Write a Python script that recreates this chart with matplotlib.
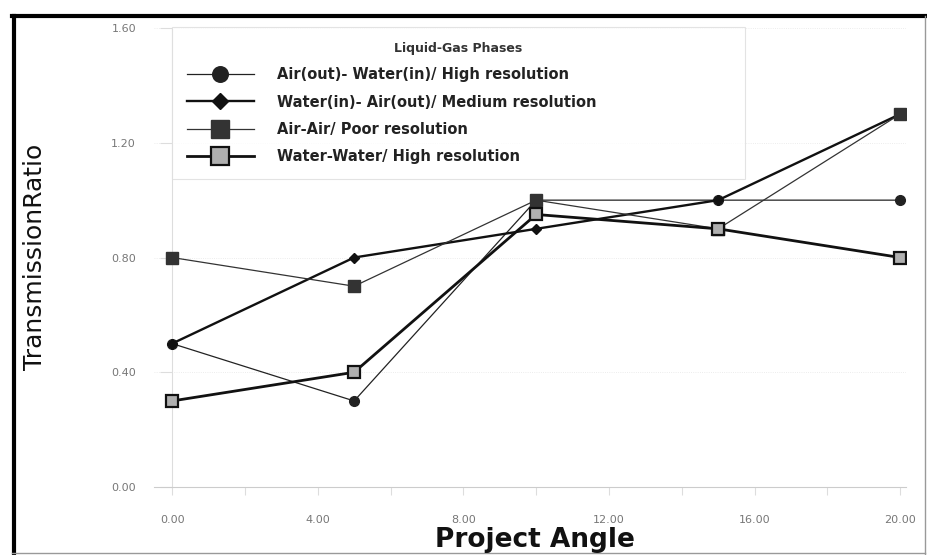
import matplotlib.pyplot as plt
from matplotlib.lines import Line2D

# project angle values
angles = [0, 5, 10, 15, 20]

# transmission ratios
air_water_high = [0.50, 0.30, 1.00, 1.00, 1.00]
water_air_medium = [0.50, 0.80, 0.90, 1.00, 1.30]
air_air_poor = [0.80, 0.70, 1.00, 0.90, 1.30]
water_water_high = [0.30, 0.40, 0.95, 0.90, 0.80]

labels = ["Air(out)- Water(in)/ High resolution",
          "Water(in)- Air(out)/ Medium resolution",
          "Air-Air/ Poor resolution",
          "Water-Water/ High resolution"]

xticks = [0, 4, 8, 12, 16, 20]
yticks = [0.0, 0.4, 0.8, 1.2, 1.6]

fig = plt.figure(figsize=(9.27, 5.55), dpi=100)
ax = fig.add_axes([0.166, 0.1225, 0.811, 0.827])

ax.plot(angles, air_water_high, color="#222222", lw=0.9, marker="o",
        ms=7, label=labels[0], zorder=3)
ax.plot(angles, water_air_medium, color="#111111", lw=1.7, marker="D",
        ms=5, label=labels[1], zorder=3)
ax.plot(angles, air_air_poor, color="#333333", lw=0.9, marker="s",
        ms=8, label=labels[2], zorder=4)
ax.plot(angles, water_water_high, color="#111111", lw=2.0, marker="s",
        ms=8, mfc="#b0b0b0", mec="#111111", mew=1.6, label=labels[3], zorder=4)

ax.set_xlim(-0.5, 20.15)
ax.set_ylim(0, 1.6)
ax.set_xticks(xticks)
ax.set_xticklabels(["%.2f" % v for v in xticks])
ax.set_xticks([2, 6, 10, 14, 18], minor=True)
ax.set_yticks(yticks)
ax.set_yticklabels(["%.2f" % v for v in yticks])

for s in ["top", "right"]:
    ax.spines[s].set_visible(False)
ax.spines["left"].set_position(("data", 0))
ax.spines["bottom"].set_position(("data", 0))
ax.spines["left"].set_color("#dddddd")
ax.spines["bottom"].set_color("#cccccc")
ax.tick_params(axis="y", length=9, width=0.8, color="#dddddd", pad=17,
               labelsize=8, labelcolor="#777777")
ax.tick_params(axis="x", which="both", length=6, width=0.8, color="#dddddd",
               pad=14, labelsize=8, labelcolor="#777777")
ax.grid(axis="y", color="#e6e6e6", lw=0.6, ls=":")

leg = ax.legend(loc="upper left", bbox_to_anchor=(0.1855, 0.685, 0.618, 0.266),
                bbox_transform=fig.transFigure, mode="expand", borderaxespad=0,
                title="Liquid-Gas Phases", markerscale=1.6, handlelength=4.6,
                handletextpad=1.6, labelspacing=0.85, borderpad=1.0,
                prop={"weight": "bold", "size": 10.5}, frameon=True, fancybox=False)
leg.get_title().set_fontweight("bold")
leg.get_title().set_fontsize(9)
leg.get_title().set_color("#333333")
leg.get_frame().set_edgecolor("#dddddd")
leg.get_frame().set_linewidth(0.8)
for t in leg.get_texts():
    t.set_color("#222222")

fig.text(0.038, 0.537, "TransmissionRatio", rotation=90, ha="center",
         va="center", fontsize=18, color="#111111")
fig.text(0.577, 0.027, "Project Angle", ha="center", va="center",
         fontsize=19, fontweight="bold", color="#111111")

# outer frame of the original figure
fig.add_artist(Line2D([0.013, 0.998], [0.971, 0.971], transform=fig.transFigure,
                      color="black", lw=3))
fig.add_artist(Line2D([0.015, 0.015], [0.0, 0.971], transform=fig.transFigure,
                      color="black", lw=3))
fig.add_artist(Line2D([0.998, 0.998], [0.0, 0.971], transform=fig.transFigure,
                      color="#999999", lw=1))
fig.add_artist(Line2D([0.013, 0.998], [0.004, 0.004], transform=fig.transFigure,
                      color="#999999", lw=1))

fig.savefig("out.png", dpi=100)
